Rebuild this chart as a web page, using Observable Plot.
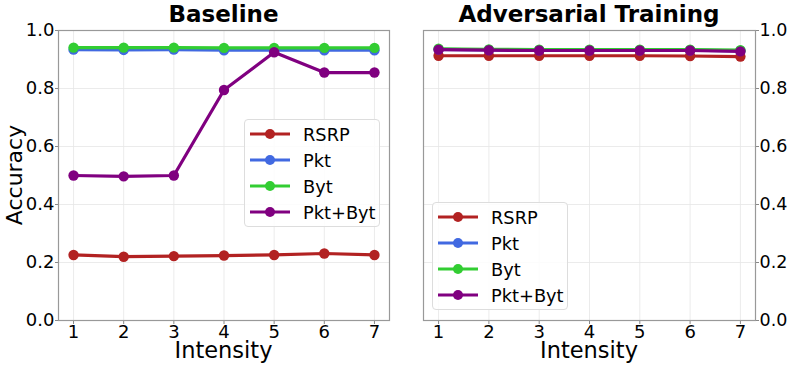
<!DOCTYPE html>
<html><head><meta charset="utf-8">
<script src="https://cdn.jsdelivr.net/npm/d3@7"></script>
<script src="https://cdn.jsdelivr.net/npm/@observablehq/plot@0.6"></script>
<style>
body{margin:0;background:#fff;font-family:"DejaVu Sans",sans-serif;}
#wrap{position:relative;width:789px;height:367px;overflow:hidden;}
.panel{position:absolute;top:0;}
.title{position:absolute;font-weight:bold;font-size:23px;text-align:center;top:0px;line-height:28px;}
.xlabel{position:absolute;font-size:22.5px;text-align:center;top:342px;line-height:16px;}
.ylabel{position:absolute;font-size:22px;left:15px;top:175px;transform:translate(-50%,-50%) rotate(-90deg);white-space:nowrap;line-height:22px;}
.legend{position:absolute;border:1px solid #ddd;border-radius:4px;background:rgba(255,255,255,0.85);width:136px;height:108px;box-sizing:border-box;}
.legend .row{position:absolute;left:0;height:26px;display:flex;align-items:center;font-size:17.8px;}
.legend svg{margin-left:5px;margin-right:13px;}
</style></head>
<body><div id="wrap"></div>
<script>
const intensity = [1, 2, 3, 4, 5, 6, 7];
const seriesNames = ["RSRP", "Pkt", "Byt", "Pkt+Byt"];
const seriesColors = ["#b22222", "#4169e1", "#32cd32", "#800080"];
const yTicks = [0, 0.2, 0.4, 0.6, 0.8, 1.0];

// Baseline
const baseRSRP   = [0.226, 0.220, 0.222, 0.224, 0.226, 0.231, 0.226];
const basePkt    = [0.934, 0.933, 0.934, 0.932, 0.932, 0.932, 0.932];
const baseByt    = [0.941, 0.941, 0.941, 0.940, 0.940, 0.940, 0.940];
const basePktByt = [0.500, 0.497, 0.500, 0.795, 0.925, 0.855, 0.855];

// Adversarial Training
const advRSRP    = [0.913, 0.913, 0.913, 0.913, 0.913, 0.912, 0.910];
const advPkt     = [0.935, 0.933, 0.932, 0.932, 0.932, 0.932, 0.930];
const advByt     = [0.937, 0.935, 0.934, 0.934, 0.934, 0.934, 0.932];
const advPktByt  = [0.934, 0.932, 0.931, 0.931, 0.931, 0.931, 0.928];

function table(arrs){
  const rows = [];
  arrs.forEach((arr, i) => arr.forEach((v, j) => rows.push({series: seriesNames[i], x: intensity[j], y: v})));
  return rows;
}
const baseData = table([baseRSRP, basePkt, baseByt, basePktByt]);
const advData = table([advRSRP, advPkt, advByt, advPktByt]);

function panel(data, opts){
  const seriesMarks = seriesNames.flatMap(s => {
    const d = data.filter(r => r.series === s);
    return [
      Plot.line(d, {x: "x", y: "y", stroke: "series", strokeWidth: 3.2}),
      Plot.dot(d, {x: "x", y: "y", fill: "series", r: 5.2})
    ];
  });
  return Plot.plot({
    width: opts.width, height: 367,
    marginLeft: opts.ml, marginRight: opts.mr, marginTop: 30, marginBottom: 47,
    x: {domain: [0.7, 7.3], label: null},
    y: {domain: [0, 1], label: null},
    color: {domain: seriesNames, range: seriesColors},
    style: {fontFamily: "DejaVu Sans", fontSize: "18px", color: "#000", background: "transparent", overflow: "visible"},
    marks: [
      Plot.gridX(intensity, {stroke: "#e6e6e6", strokeOpacity: 1, strokeWidth: 0.8}),
      Plot.gridY(yTicks, {stroke: "#e6e6e6", strokeOpacity: 1, strokeWidth: 0.8}),
      Plot.axisX(intensity, {tickSize: 4, tickPadding: 1, stroke: "#888", fill: "#000", fontSize: 18, tickFormat: d => String(d), label: null}),
      Plot.axisY(yTicks, {anchor: opts.yAnchor, tickSize: 3, tickPadding: 1, stroke: "#888", fill: "#000", fontSize: opts.yFont, tickFormat: d3.format(".1f"), label: null}),
      ...seriesMarks,
      Plot.frame({stroke: "#999", strokeWidth: 1.2})
    ]
  });
}

const wrap = document.getElementById("wrap");
function place(el, left){ el.classList.add("panel"); el.style.left = left + "px"; wrap.appendChild(el); }
place(panel(baseData, {width: 400, ml: 58, mr: 11, yAnchor: "left", yFont: 18}), 0);
place(panel(advData, {width: 389, ml: 23, mr: 34, yAnchor: "right", yFont: 17.5}), 400);

function div(cls, text, css){ const d = document.createElement("div"); d.className = cls; d.textContent = text; Object.assign(d.style, css); wrap.appendChild(d); return d; }
div("title", "Baseline", {left: "58px", width: "331px"});
div("title", "Adversarial Training", {left: "423px", width: "332px"});
div("xlabel", "Intensity", {left: "58px", width: "331px"});
div("xlabel", "Intensity", {left: "423px", width: "332px"});
div("ylabel", "Accuracy", {});

function legend(left, top){
  const lg = document.createElement("div");
  lg.className = "legend";
  lg.style.left = left + "px"; lg.style.top = top + "px";
  seriesNames.forEach((s, i) => {
    const row = document.createElement("div");
    row.className = "row";
    row.style.top = (1 + i * 26) + "px";
    row.innerHTML = `<svg width="40" height="12"><line x1="0" y1="6" x2="40" y2="6" stroke="${seriesColors[i]}" stroke-width="3.2"/><circle cx="20" cy="6" r="5" fill="${seriesColors[i]}"/></svg><span>${s}</span>`;
    lg.appendChild(row);
  });
  wrap.appendChild(lg);
}
legend(244, 119);
legend(432, 202);
</script></body></html>
